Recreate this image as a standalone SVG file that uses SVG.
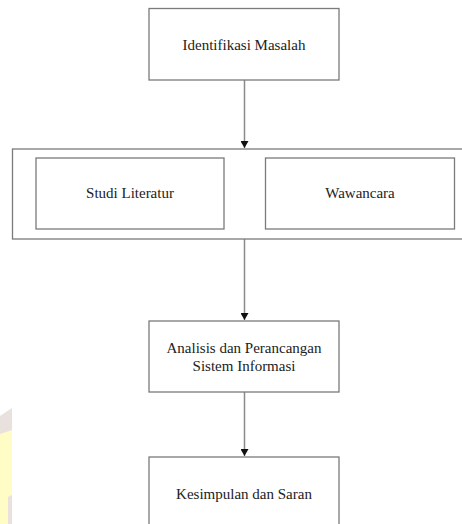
<svg xmlns="http://www.w3.org/2000/svg" width="462" height="524" viewBox="0 0 462 524">
<defs>
<style>
.box{fill:#fff;stroke:#7a7a7a;stroke-width:1.3}
.lbl{font-family:'Liberation Serif','DejaVu Serif',serif;font-size:15px;fill:#222;text-anchor:middle}
.con{stroke:#8a8a8a;stroke-width:1.5;fill:none}
</style>
<marker id="ah" markerWidth="8" markerHeight="8" refX="7" refY="4" orient="auto" markerUnits="userSpaceOnUse" viewBox="0 0 8 8">
<path d="M0,0 L7,4 L0,8 Z" fill="#111"/>
</marker>
</defs>
<rect width="462" height="524" fill="#fff"/>
<g id="watermark">
<polygon points="0,416 12,408 12,524 0,524" fill="#e9e1dd"/>
<polygon points="0,434 12,430 12,495 8,497 8,524 0,524" fill="#fffcc6"/>
</g>
<g id="connectors">
<line class="con" x1="244.5" y1="80" x2="244.5" y2="148" marker-end="url(#ah)"/>
<line class="con" x1="244.5" y1="239" x2="244.5" y2="320" marker-end="url(#ah)"/>
<line class="con" x1="244.5" y1="392" x2="244.5" y2="456" marker-end="url(#ah)"/>
</g>
<g id="identifikasi">
<rect class="box" x="149" y="8.5" width="190" height="71.5"/>
<text class="lbl" x="244" y="50" font-family="Liberation Serif, serif">Identifikasi Masalah</text>
</g>
<g id="pengumpulan">
<rect class="box" x="12.5" y="149" width="460" height="90"/>
</g>
<g id="studi">
<rect class="box" x="36" y="158" width="188" height="71"/>
<text class="lbl" x="130" y="198">Studi Literatur</text>
</g>
<g id="wawancara">
<rect class="box" x="265.5" y="158" width="189" height="71"/>
<text class="lbl" x="360" y="198">Wawancara</text>
</g>
<g id="analisis">
<rect class="box" x="149" y="321" width="190" height="71"/>
<text class="lbl" x="244" y="353">Analisis dan Perancangan</text>
<text class="lbl" x="244" y="371">Sistem Informasi</text>
</g>
<g id="kesimpulan">
<rect class="box" x="149" y="457" width="190" height="80"/>
<text class="lbl" x="244" y="499">Kesimpulan dan Saran</text>
</g>
</svg>
